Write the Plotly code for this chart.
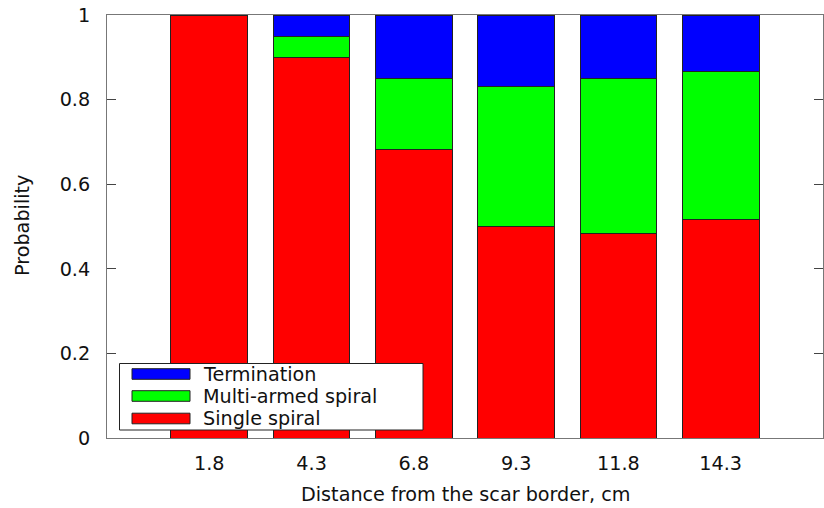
import plotly.graph_objects as go

categories = ["1.8", "4.3", "6.8", "9.3", "11.8", "14.3"]
single_spiral = [1.0, 0.900, 0.683, 0.500, 0.484, 0.517]
multi_armed = [0.0, 0.050, 0.167, 0.332, 0.366, 0.349]
termination = [0.0, 0.050, 0.150, 0.168, 0.150, 0.134]
series_names = ["Single spiral", "Multi-armed spiral", "Termination"]
series_colors = ["#ff0000", "#00ff00", "#0000ff"]
y_ticks = [0, 0.2, 0.4, 0.6, 0.8, 1.0]
y_tick_labels = ["0", "0.2", "0.4", "0.6", "0.8", "1"]

W, H = 824, 508
ML, MR, MT, MB = 107, 1, 15, 70
PW, PH = W - ML - MR, H - MT - MB
FONT = "DejaVu Sans"
FS = 19.2

def px(xp):
    return (xp - ML) / PW

def py(yp):
    return (H - MB - yp) / PH

fig = go.Figure()
for name, vals, col in zip(series_names, [single_spiral, multi_armed, termination], series_colors):
    fig.add_trace(go.Bar(x=categories, y=vals, name=name, marker=dict(color=col, line=dict(color="#222222", width=1)),
                         showlegend=False))

shapes = []
annotations = []
# legend box
shapes.append(dict(type="rect", xref="paper", yref="paper", x0=px(119.5), x1=px(423), y0=py(430), y1=py(363.5),
                   line=dict(color="#222222", width=1), fillcolor="white", layer="above"))
legend_rows = [(series_names[2], series_colors[2], 374), (series_names[1], series_colors[1], 396), (series_names[0], series_colors[0], 418.5)]
for name, col, yc in legend_rows:
    shapes.append(dict(type="rect", xref="paper", yref="paper", x0=px(132), x1=px(190), y0=py(yc + 5.3), y1=py(yc - 5.3),
                       line=dict(color="#222222", width=1), fillcolor=col, layer="above"))
    annotations.append(dict(xref="paper", yref="paper", x=px(201), y=py(yc), text=name, showarrow=False,
                            xanchor="left", yanchor="middle", font=dict(family=FONT, size=FS, color="#111111")))

annotations.append(dict(xref="paper", yref="paper", x=px(22), y=py(226), text="Probability", textangle=-90,
                        showarrow=False, xanchor="center", yanchor="middle", font=dict(family=FONT, size=FS, color="#111111")))
annotations.append(dict(xref="paper", yref="paper", x=px(465), y=py(494), text="Distance from the scar border, cm",
                        showarrow=False, xanchor="center", yanchor="middle", font=dict(family=FONT, size=FS, color="#111111")))

fig.update_layout(
    width=W, height=H,
    margin=dict(l=ML, r=MR, t=MT, b=MB, pad=0),
    barmode="stack", bargap=0.25,
    plot_bgcolor="white", paper_bgcolor="white",
    font=dict(family=FONT, size=FS, color="#111111"),
    shapes=shapes, annotations=annotations,
    showlegend=False,
)
fig.update_xaxes(type="category", range=[-1, 6], showline=True, mirror=True, linecolor="#777777", linewidth=1,
                 ticks="", showgrid=False, zeroline=False, ticklabelstandoff=8)
fig.update_yaxes(range=[0, 1], tickvals=y_ticks, ticktext=y_tick_labels, showline=True, mirror="ticks",
                 linecolor="#777777", linewidth=1, ticks="inside", ticklen=9, tickcolor="#444444",
                 showgrid=False, zeroline=False, ticklabelstandoff=12)

fig.write_html("out.html")
